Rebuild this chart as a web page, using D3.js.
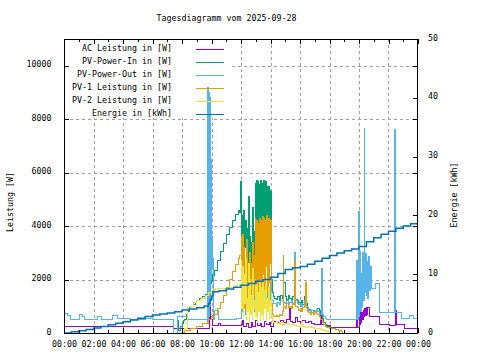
<!DOCTYPE html>
<html><head><meta charset="utf-8">
<script src="https://cdn.jsdelivr.net/npm/d3@7/dist/d3.min.js"></script>
<style>
body{margin:0;background:#fff}
svg{display:block}
text{font-family:"DejaVu Sans Mono","Liberation Mono",monospace;font-size:8.3px;fill:#000}
</style>
</head><body>
<svg id="chart" width="480" height="360"></svg>
<script>
// ---------------- data ----------------
const chartTitle = "Tagesdiagramm vom 2025-09-28";
const yLabel = "Leistung [W]";
const y2Label = "Energie [kWh]";
const xTickHours = [0,2,4,6,8,10,12,14,16,18,20,22,24];
const xTickLabels = ["00:00","02:00","04:00","06:00","08:00","10:00","12:00","14:00","16:00","18:00","20:00","22:00","00:00"];
const xMinorHours = [1,3,5,7,9,11,13,15,17,19,21,23];
const yTicks = [0,2000,4000,6000,8000,10000];
const y2Ticks = [0,10,20,30,40,50];
const seriesNames = ["AC Leistung in [W]","PV-Power-In in [W]","PV-Power-Out in [W]","PV-1 Leistung in [W]","PV-2 Leistung in [W]","Energie in [kWh]"];

// [hour, W]
const acLeistung = [
[0,225],[7.4,150],[9.88,3000],[9.95,520],[10.05,280],[10.5,350],[10.6,280],[12.0,300],[12.1,450],[12.2,250],[12.4,350],[12.5,220],[12.7,400],[12.8,260],[13.0,480],[13.1,280],[13.3,350],[13.4,250],[13.6,420],[13.7,300],[13.9,380],[14.0,260],[14.2,420],[14.5,380],[14.7,450],[14.9,400],[15.1,500],[15.3,900],[15.35,420],[15.5,380],[15.7,590],[15.8,420],[16.0,400],[16.2,450],[16.4,380],[16.6,420],[16.8,350],[17.0,320],[17.2,300],[17.4,800],[17.45,300],[17.8,280],[18.1,200],[19.85,900],[19.9,200],[20.0,750],[20.05,300],[20.1,800],[20.15,400],[20.2,780],[20.25,500],[20.3,850],[20.35,600],[20.4,900],[20.45,650],[20.5,950],[20.55,700],[20.6,970],[20.7,600],[21.4,300],[22.1,290],[22.5,860],[22.55,300],[23.1,170],[24,170]
];
const pvPowerIn = [
[7.6,0],[7.7,450],[7.75,100],[7.9,250],[8.0,350],[8.1,450],[8.2,520],[8.3,700],[8.4,820],[8.5,950],[8.6,1000],[8.75,1080],[8.9,1150],[9.0,1220],[9.2,1300],[9.4,1380],[9.6,1450],[9.8,1700],[9.9,1850],[10.0,1950],[10.1,2150],[10.2,2350],[10.4,2700],[10.6,3050],[10.8,3350],[11.0,3700],[11.2,3950],[11.4,4200],[11.6,4450],[11.8,4600],[11.9,4500],[11.95,5650],
[12.00,5650],[12.05,2500],[12.10,4400],[12.15,3000],[12.20,4600],[12.25,3200],[12.30,4200],[12.35,2400],[12.40,3900],[12.45,2000],[12.50,5100],[12.55,2600],[12.60,3600],[12.65,1800],[12.70,3400],[12.75,2200],[12.80,4700],[12.85,1900],[12.90,3800],[12.95,5600],[13.00,2800],[13.05,5700],[13.10,3200],[13.15,5650],[13.20,2400],[13.25,5550],[13.30,3000],[13.35,5700],[13.40,2600],[13.45,5600],[13.50,3500],[13.55,5720],[13.60,2200],[13.65,5650],[13.70,3800],[13.75,5500],[13.80,2900],[13.85,5500],[13.90,3100],[13.95,5350],[14.00,4000],[14.05,5300],[14.10,2000],[14.15,1500],[14.20,1350],[14.25,1300],
[14.3,1300],[14.4,1250],[14.5,1350],[14.6,1200],[14.7,1400],[14.8,1300],[14.9,1900],[15.0,1350],[15.1,1250],[15.2,1400],[15.3,1300],[15.4,1250],[15.5,1350],[15.6,1450],[15.7,1250],[15.8,1200],[15.9,1150],[16.0,1100],[16.1,1200],[16.2,1050],[16.3,1350],[16.4,1100],[16.5,950],[16.6,880],[16.7,820],[16.8,780],[16.9,850],[17.0,800],[17.1,860],[17.2,900],[17.3,830],[17.4,700],[17.5,550],[17.6,400],[17.7,300],[17.8,260],[17.9,240],[18.0,220],[18.2,180],[18.4,130],[18.6,80],[18.7,0]
];
const pvPowerOut = [
[0,740],[0.25,650],[0.45,500],[1.08,700],[1.25,620],[1.42,500],[2.3,620],[2.55,500],[3.3,640],[3.66,530],[4.5,520],[5.5,540],[6.0,520],[7.4,0],[7.7,610],[8.4,490],
[9.72,9200],[9.74,400],[9.76,9200],[9.78,500],[9.80,9100],[9.82,600],[9.84,9000],[9.86,800],[9.88,8800],[9.90,1000],[9.92,8000],[9.94,1500],[9.96,6500],[9.98,2000],[10.00,5000],[10.02,2500],[10.04,3600],[10.06,2800],[10.12,500],[10.2,860],[10.35,850],[10.45,490],[11.7,560],
[12.00,600],[12.05,2600],[12.1,800],[12.2,1200],[12.3,700],[12.4,1500],[12.5,900],[12.6,1300],[12.7,700],[12.8,1600],[12.9,800],[13.0,1400],[13.1,900],[13.2,1700],[13.3,800],[13.4,1500],[13.5,1000],[13.6,1800],[13.7,900],[13.8,1600],[13.9,1100],[14.0,1900],[14.1,1200],[14.2,1100],
[14.3,1100],[14.4,1000],[14.5,1150],[14.6,1050],[14.7,1200],[14.85,2730],[14.9,1150],[15.0,1100],[15.1,1200],[15.2,1050],[15.3,1150],[15.4,1200],[15.5,1100],[15.65,3030],[15.7,1200],[15.8,1100],[15.9,1050],[16.0,1000],[16.1,1100],[16.2,950],[16.3,1200],[16.4,1000],[16.5,900],[16.6,850],[16.7,800],[16.8,850],[16.9,780],[17.0,820],[17.1,880],[17.2,800],[17.3,700],[17.45,2430],[17.5,700],[17.6,600],[17.7,560],[17.8,520],
[19.85,2700],[19.9,500],[19.95,4540],[20.0,600],[20.05,3040],[20.1,800],[20.15,2240],[20.2,1000],[20.25,3000],[20.3,1200],[20.35,7670],[20.4,1500],[20.45,2990],[20.5,1400],[20.55,2670],[20.6,1300],[20.65,2850],[20.7,1600],[20.8,2500],[20.85,1680],[21.1,1870],[21.4,750],[22.38,7600],[22.45,2620],[22.5,750],[22.9,560],[23.45,670],[23.7,560],[24,560]
];
const pv1Leistung = [
[7.8,30],[8.2,80],[8.6,150],[9.0,250],[9.4,350],[9.8,500],[10.0,600],[10.2,700],[10.4,900],[10.6,1150],[10.8,1400],[11.0,1700],[11.2,2000],[11.4,2300],[11.6,2550],[11.8,2800],[11.9,2900],
[12.00,3600],[12.05,1500],[12.10,3700],[12.15,1200],[12.20,3200],[12.25,900],[12.30,2800],[12.35,1300],[12.40,3500],[12.45,1000],[12.50,2400],[12.55,1600],[12.60,3000],[12.65,900],[12.70,2600],[12.75,1100],[12.80,3400],[12.85,1400],[12.90,2900],[12.95,4300],[13.00,1200],[13.05,4200],[13.10,1600],[13.15,4100],[13.20,1000],[13.25,4300],[13.30,1800],[13.35,4200],[13.40,1300],[13.45,4350],[13.50,2200],[13.55,4300],[13.60,1100],[13.65,4200],[13.70,2500],[13.75,4400],[13.80,1500],[13.85,4300],[13.90,1900],[13.95,4250],[14.00,2600],[14.05,4200],[14.10,1100],[14.15,700],[14.20,600],[14.25,600],
[14.3,600],[14.4,650],[14.5,600],[14.6,700],[14.7,650],[14.8,800],[14.85,2900],[14.9,1000],[15.0,900],[15.1,1100],[15.2,950],[15.3,1000],[15.4,900],[15.5,1050],[15.6,1100],[15.65,2700],[15.7,1000],[15.8,950],[15.9,850],[16.0,900],[16.1,800],[16.2,950],[16.3,1000],[16.4,1900],[16.45,900],[16.5,800],[16.6,750],[16.7,700],[16.8,750],[16.9,700],[17.0,750],[17.1,720],[17.2,680],[17.3,600],[17.4,500],[17.5,400],[17.6,300],[17.7,250],[17.8,220],[18.0,180],[18.2,150],[18.4,120],[18.6,80],[18.8,40],[18.9,0]
];
const pv2Leistung = [
[7.8,30],[8.0,80],[8.2,150],[8.35,300],[8.4,930],[8.6,1000],[8.8,1150],[9.0,1230],[9.3,1300],[9.6,1420],[9.8,1500],[10.0,1580],[10.3,1650],[10.7,1680],[11.2,1720],[11.6,1760],[11.9,1800],
[12.00,2700],[12.05,900],[12.10,2500],[12.15,600],[12.20,2200],[12.25,1100],[12.30,2800],[12.35,500],[12.40,1300],[12.45,800],[12.50,2600],[12.55,400],[12.60,2000],[12.65,700],[12.70,1400],[12.75,500],[12.80,2400],[12.85,900],[12.90,1200],[12.95,2000],[13.00,600],[13.05,1800],[13.10,400],[13.15,1500],[13.20,800],[13.25,1900],[13.30,450],[13.35,1700],[13.40,700],[13.45,2000],[13.50,500],[13.55,1600],[13.60,900],[13.65,1800],[13.70,400],[13.75,1300],[13.80,800],[13.85,1700],[13.90,500],[13.95,1200],[14.00,1000],[14.05,1500],[14.10,600],[14.15,450],[14.20,400],[14.25,380],
[14.3,380],[14.4,420],[14.5,350],[14.6,400],[14.7,330],[14.8,380],[14.9,300],[15.0,350],[15.2,300],[15.4,330],[15.6,280],[15.8,250],[16.0,300],[16.1,420],[16.2,250],[16.4,220],[16.6,250],[16.8,200],[17.0,180],[17.2,150],[17.4,120],[17.6,90],[17.8,60],[18.0,30],[18.1,0]
];
// [hour, kWh]
const energie = [
[0,0],[0.5,0.2],[1,0.4],[1.5,0.6],[2,0.85],[2.5,1.1],[3,1.4],[3.5,1.65],[4,1.9],[4.5,2.2],[5,2.5],[5.5,2.8],[6,3.05],[6.5,3.25],[7,3.4],[7.5,3.6],[8,3.9],[8.5,4.1],[9,4.3],[9.5,4.6],[9.8,5.0],[9.9,5.6],[10.0,6.3],[10.1,7.0],[10.5,7.2],[11,7.5],[11.5,7.8],[12,8.1],[12.5,8.4],[13,8.8],[13.5,9.1],[14,9.5],[14.5,10.1],[15,10.8],[15.5,11.1],[16,11.3],[16.5,11.7],[17,12.2],[17.5,12.7],[18,13.2],[18.5,13.6],[19,14.0],[19.5,14.3],[20,14.7],[20.5,15.5],[21,16.2],[21.5,16.8],[22,17.3],[22.5,17.8],[23,18.2],[23.5,18.6],[24,18.9]
];

// ---------------- drawing ----------------
const colors = ["#9400d3","#009e73","#56b4e9","#e69f00","#f0e442","#0072b2"];
const L = 64, R = 418, T = 39, B = 333;
const svg = d3.select("#chart");
const x = d3.scaleLinear().domain([0,24]).range([L,R]);
const y = d3.scaleLinear().domain([0,11000]).range([B,T]);
const y2 = d3.scaleLinear().domain([0,50]).range([B,T]);

svg.append("rect").attr("width",480).attr("height",360).attr("fill","#fff");

// grid
const grid = svg.append("g").attr("stroke","#a0a0a0").attr("stroke-width",1).attr("stroke-dasharray","3,3").attr("shape-rendering","crispEdges");
grid.selectAll("line.v").data(xTickHours.filter(h=>h>0&&h<24)).join("line")
  .attr("x1",d=>Math.round(x(d))+0.5).attr("x2",d=>Math.round(x(d))+0.5).attr("y1",T).attr("y2",B);
grid.selectAll("line.h").data(yTicks.filter(v=>v>0)).join("line")
  .attr("y1",d=>Math.round(y(d))+0.5).attr("y2",d=>Math.round(y(d))+0.5).attr("x1",L).attr("x2",R);

// opaque key background
const keyBox = {x0:L+1, y0:T+1, x1:230, y1:118};
svg.append("rect").attr("x",keyBox.x0).attr("y",keyBox.y0).attr("width",keyBox.x1-keyBox.x0).attr("height",keyBox.y1-keyBox.y0).attr("fill","#fff");

// clip
svg.append("clipPath").attr("id","plot").append("rect").attr("x",L).attr("y",T).attr("width",R-L).attr("height",B-T);
const plot = svg.append("g").attr("clip-path","url(#plot)");

const lineW = d3.line().x(d=>x(d[0])).y(d=>y(d[1])).curve(d3.curveStepAfter);
const lineE = d3.line().x(d=>x(d[0])).y(d=>y2(d[1])).curve(d3.curveStepAfter);
const powerSeries = [acLeistung,pvPowerIn,pvPowerOut,pv1Leistung,pv2Leistung];

// legend geometry
const legTextX = 172, legLineX1 = 196, legLineX2 = 224, legY0 = 49.3, legDY = 13;
const legend = svg.append("g");
function legendEntry(i){
  legend.append("text").attr("x",legTextX).attr("y",legY0+i*legDY+1.2).attr("text-anchor","end").text(seriesNames[i]);
  legend.append("line").attr("x1",legLineX1).attr("x2",legLineX2)
    .attr("y1",legY0+i*legDY).attr("y2",legY0+i*legDY)
    .attr("stroke",colors[i]).attr("stroke-width",1.2).attr("shape-rendering","crispEdges");
}

powerSeries.forEach((s,i)=>{
  plot.append("path").attr("d",lineW(s)).attr("fill","none").attr("stroke",colors[i])
    .attr("stroke-width",1).attr("shape-rendering","crispEdges");
});
plot.append("path").attr("d",lineE(energie)).attr("fill","none").attr("stroke",colors[5])
  .attr("stroke-width",1.5).attr("stroke-linejoin","miter");
seriesNames.forEach((n,i)=>legendEntry(i));

// axes
function styleAxis(g){ g.select(".domain").remove(); g.selectAll("line").attr("stroke","#000").attr("shape-rendering","crispEdges");
  g.selectAll("text").attr("fill","#000"); g.attr("font-family",null).attr("font-size",null); }
const ax = svg.append("g").attr("transform",`translate(0,${B})`)
  .call(d3.axisBottom(x).tickValues(xTickHours).tickSize(-5).tickPadding(8).tickFormat((d,i)=>xTickLabels[i]));
styleAxis(ax);
const axm = svg.append("g").attr("transform",`translate(0,${B})`)
  .call(d3.axisBottom(x).tickValues(xMinorHours).tickSize(-3).tickFormat(""));
styleAxis(axm);
const axt = svg.append("g").attr("transform",`translate(0,${T})`)
  .call(d3.axisTop(x).tickValues(xTickHours).tickSize(-5).tickFormat(""));
styleAxis(axt);
const axtm = svg.append("g").attr("transform",`translate(0,${T})`)
  .call(d3.axisTop(x).tickValues(xMinorHours).tickSize(-3).tickFormat(""));
styleAxis(axtm);
const ayl = svg.append("g").attr("transform",`translate(${L},0)`)
  .call(d3.axisLeft(y).tickValues(yTicks).tickSize(-5).tickPadding(12.5).tickFormat(d3.format("d")));
styleAxis(ayl); ayl.selectAll("text").attr("dy","0.13em");
const ayr = svg.append("g").attr("transform",`translate(${R},0)`)
  .call(d3.axisRight(y).tickValues(yTicks).tickSize(-5).tickFormat(""));
styleAxis(ayr);
const ay2 = svg.append("g").attr("transform",`translate(${R},0)`)
  .call(d3.axisRight(y2).tickValues(y2Ticks).tickSize(-5).tickPadding(10).tickFormat(d3.format("d")));
styleAxis(ay2); ay2.selectAll("text").attr("dy","0.13em");

// border
svg.append("rect").attr("x",L+0.5).attr("y",T+0.5).attr("width",R-L-1).attr("height",B-T)
  .attr("fill","none").attr("stroke","#000").attr("stroke-width",1).attr("shape-rendering","crispEdges");

// titles
svg.append("text").attr("x",226.5).attr("y",20.5).attr("text-anchor","middle").text(chartTitle);
svg.append("text").attr("transform","translate(12.5,202) rotate(-90)").attr("text-anchor","middle").text(yLabel);
svg.append("text").attr("transform","translate(456.5,195) rotate(-90)").attr("text-anchor","middle").text(y2Label);
</script>
</body></html>
